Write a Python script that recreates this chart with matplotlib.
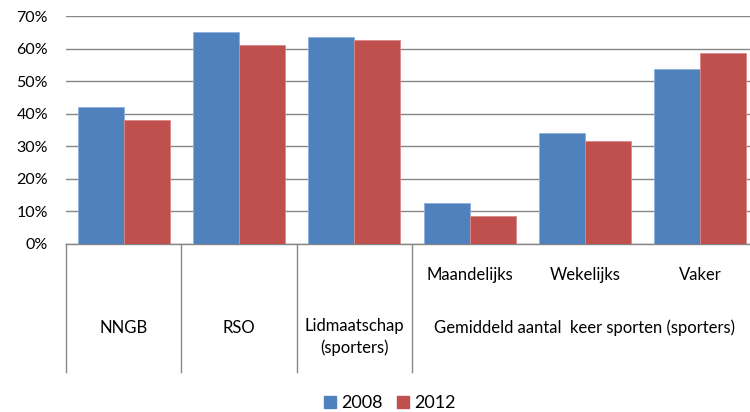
import matplotlib
matplotlib.use('Agg')
import matplotlib.pyplot as plt
from matplotlib.ticker import PercentFormatter
from matplotlib.patches import Patch

# data
subcats = ['', '', '', 'Maandelijks', 'Wekelijks', 'Vaker']
v2008 = [42, 65, 63.5, 12.5, 34, 53.7]
v2012 = [38, 61, 62.7, 8.6, 31.6, 58.6]
groups = ['NNGB', 'RSO', 'Lidmaatschap\n(sporters)', 'Gemiddeld aantal  keer sporten (sporters)']
group_spans = [(0, 0), (1, 1), (2, 2), (3, 5)]
years = ['2008', '2012']
colors = ['#4F81BD', '#C0504D']

plt.rcParams['font.family'] = ['Lato', 'DejaVu Sans']

fig = plt.figure(figsize=(7.5, 4.12), dpi=100)
ax = fig.add_axes([66 / 750, 1 - 244 / 412, (758 - 66) / 750, 228 / 412])

x = list(range(len(v2008)))
w = 0.4
ax.bar([i - w / 2 for i in x], v2008, width=w, color=colors[0], edgecolor='#8DB0DC', linewidth=0.6, zorder=3)
ax.bar([i + w / 2 for i in x], v2012, width=w, color=colors[1], edgecolor='#D98A88', linewidth=0.6, zorder=3)

ax.set_xlim(-0.5, len(x) - 0.5)
ax.set_ylim(0, 70)
ax.set_yticks(range(0, 71, 10))
ax.yaxis.set_major_formatter(PercentFormatter(decimals=0))
ax.tick_params(axis='y', length=0, pad=13, labelsize=11.5, colors='#000000')
ax.set_xticks([])
ax.grid(axis='y', color='#868686', linewidth=1, zorder=0)
for s in ['left', 'right', 'top']:
    ax.spines[s].set_visible(False)
ax.spines['bottom'].set_color('#868686')
ax.spines['bottom'].set_linewidth(1)

# multi-level category axis
trans = ax.get_xaxis_transform()
low = -(372 - 244) / 228
for b in [-0.5, 0.5, 1.5, 2.5]:
    ax.plot([b, b], [0, low], transform=trans, color='#868686', linewidth=1, clip_on=False)

y_sub = -(275 - 244) / 228
for i, s in enumerate(subcats):
    if s:
        ax.text(i, y_sub, s, transform=trans, ha='center', va='center', fontsize=12)

y_grp = -(328 - 244) / 228
for g, (a, b) in zip(groups, group_spans):
    if '\n' in g:
        ax.text((a + b) / 2, y_grp + 10 / 228, g, transform=trans, ha='center', va='top',
                fontsize=12, linespacing=1.4)
    else:
        ax.text((a + b) / 2, y_grp, g, transform=trans, ha='center', va='center', fontsize=12)

handles = [Patch(color=c, label=l) for c, l in zip(colors, years)]
fig.legend(handles=handles, loc='center', bbox_to_anchor=(390 / 750, 1 - 403 / 412), ncol=2,
           frameon=False, fontsize=13, handlelength=0.65, handleheight=0.65,
           handletextpad=0.3, columnspacing=0.8)

fig.savefig('out.png', dpi=100)
